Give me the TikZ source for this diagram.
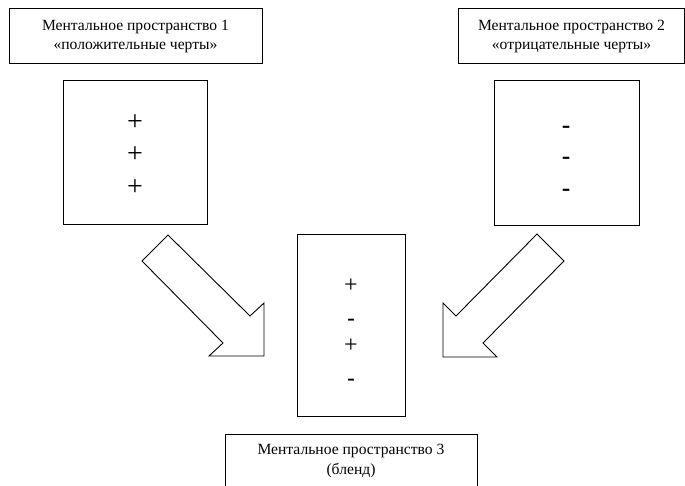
\documentclass[tikz,border=0pt]{standalone}
\usepackage{fontspec}
\setmainfont{Liberation Serif}
\newfontfamily\signsans{Liberation Sans}
\begin{document}
\begin{tikzpicture}[x=1pt,y=-1pt,line width=1pt,
  labelbox/.style={draw,rectangle,align=center,inner sep=0pt,
    font=\fontsize{15.6}{19.5}\selectfont},
  spacebox/.style={draw,rectangle,inner sep=0pt},
  plussign/.style={inner sep=0pt,font=\fontsize{28}{28}\selectfont},
  minussign/.style={inner sep=0pt,font=\signsans\fontsize{27}{27}\selectfont},
  plussmall/.style={inner sep=0pt,font=\fontsize{24}{24}\selectfont},
  minussmall/.style={inner sep=0pt,font=\signsans\fontsize{24}{24}\selectfont},
  blockarrow/.style={draw,line width=0.9pt,line join=miter}]
\useasboundingbox (0,0) rectangle (685,486);
% labels
\node[labelbox,minimum width=253,minimum height=55] (l1) at (135.5,36.5)
  {Ментальное пространство 1\\«положительные черты»};
\node[labelbox,minimum width=226,minimum height=55] (l2) at (571.5,36.5)
  {Ментальное пространство 2\\«отрицательные черты»};
\node[labelbox,minimum width=252,minimum height=54] (l3) at (351,461)
  {Ментальное пространство 3\\(бленд)};
% space boxes
\node[spacebox,minimum width=144,minimum height=144] (s1) at (135,153) {};
\node[spacebox,minimum width=145,minimum height=145] (s2) at (566.5,153.5) {};
\node[spacebox,minimum width=108,minimum height=181] (s3) at (351,325.5) {};
% signs
\node[plussign] (p1a) at (135,123) {+};
\node[plussign] (p1b) at (135,155) {+};
\node[plussign] (p1c) at (135,187.5) {+};
\node[minussign] (m2a) at (566,130.2) {-};
\node[minussign] (m2b) at (566,161.8) {-};
\node[minussign] (m2c) at (566,193.8) {-};
\node[plussmall] (p3a) at (351,286) {+};
\node[minussmall] (m3a) at (351,322.5) {-};
\node[plussmall] (p3b) at (351,346) {+};
\node[minussmall] (m3b) at (351,382.5) {-};
% block arrows
\draw[blockarrow] (168,235) -- (250,316) -- (264,303) -- (264,356) -- (209,356)
  -- (223,343) -- (142,261) -- cycle;
\draw[blockarrow] (537,234) -- (564,261) -- (483,343) -- (497,357) -- (443,357)
  -- (443,303) -- (456,316) -- cycle;
\end{tikzpicture}
\end{document}
